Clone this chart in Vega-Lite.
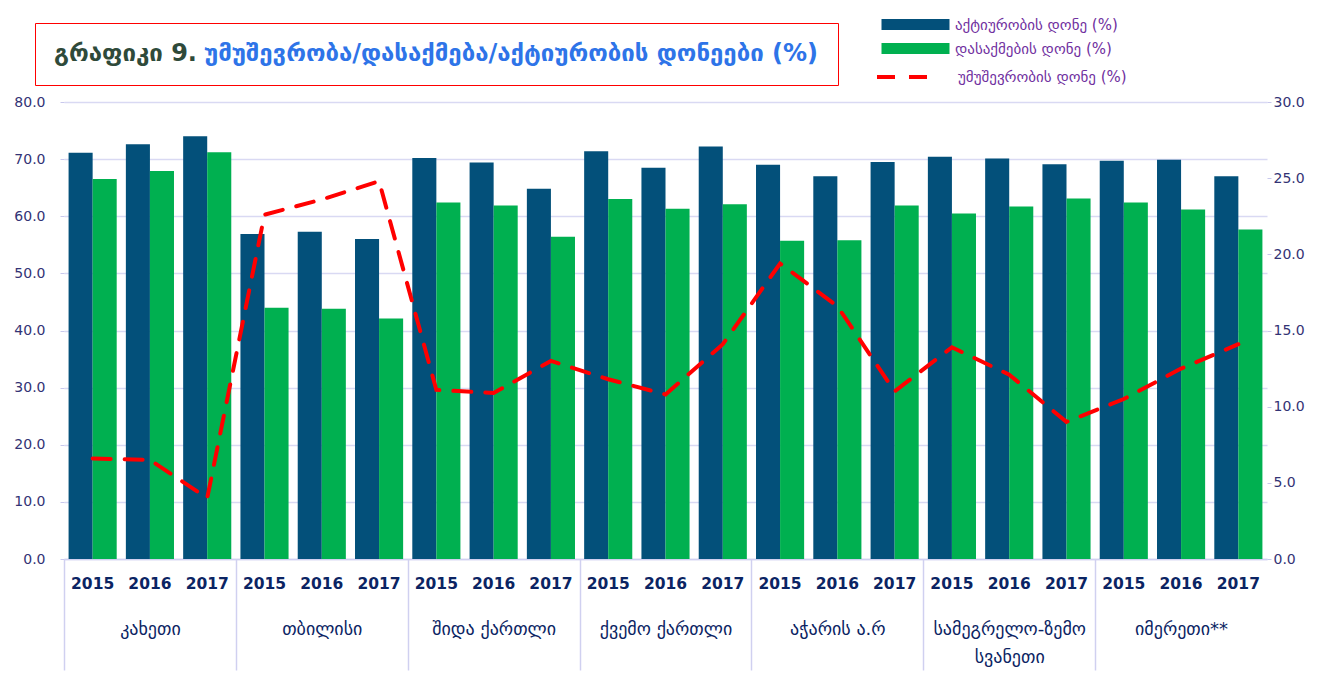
{
  "$schema": "https://vega.github.io/schema/vega-lite/v6.json",
  "padding": {"left": 13, "top": 17, "right": 10, "bottom": 5},
  "background": "#FFFFFF",
  "config": {"view": {"stroke": null}, "font": "DejaVu Sans"},
  "datasets": {
    "bars": [
      {"key": "კახეთი 2015", "series": "აქტიურობის დონე (%)", "value": 71.1},
      {"key": "კახეთი 2015", "series": "დასაქმების დონე (%)", "value": 66.5},
      {"key": "კახეთი 2016", "series": "აქტიურობის დონე (%)", "value": 72.6},
      {"key": "კახეთი 2016", "series": "დასაქმების დონე (%)", "value": 67.9},
      {"key": "კახეთი 2017", "series": "აქტიურობის დონე (%)", "value": 74.0},
      {"key": "კახეთი 2017", "series": "დასაქმების დონე (%)", "value": 71.2},
      {"key": "თბილისი 2015", "series": "აქტიურობის დონე (%)", "value": 56.9},
      {"key": "თბილისი 2015", "series": "დასაქმების დონე (%)", "value": 44.0},
      {"key": "თბილისი 2016", "series": "აქტიურობის დონე (%)", "value": 57.3},
      {"key": "თბილისი 2016", "series": "დასაქმების დონე (%)", "value": 43.8},
      {"key": "თბილისი 2017", "series": "აქტიურობის დონე (%)", "value": 56.0},
      {"key": "თბილისი 2017", "series": "დასაქმების დონე (%)", "value": 42.1},
      {"key": "შიდა ქართლი 2015", "series": "აქტიურობის დონე (%)", "value": 70.2},
      {"key": "შიდა ქართლი 2015", "series": "დასაქმების დონე (%)", "value": 62.4},
      {"key": "შიდა ქართლი 2016", "series": "აქტიურობის დონე (%)", "value": 69.4},
      {"key": "შიდა ქართლი 2016", "series": "დასაქმების დონე (%)", "value": 61.9},
      {"key": "შიდა ქართლი 2017", "series": "აქტიურობის დონე (%)", "value": 64.8},
      {"key": "შიდა ქართლი 2017", "series": "დასაქმების დონე (%)", "value": 56.4},
      {"key": "ქვემო ქართლი 2015", "series": "აქტიურობის დონე (%)", "value": 71.4},
      {"key": "ქვემო ქართლი 2015", "series": "დასაქმების დონე (%)", "value": 63.0},
      {"key": "ქვემო ქართლი 2016", "series": "აქტიურობის დონე (%)", "value": 68.5},
      {"key": "ქვემო ქართლი 2016", "series": "დასაქმების დონე (%)", "value": 61.3},
      {"key": "ქვემო ქართლი 2017", "series": "აქტიურობის დონე (%)", "value": 72.2},
      {"key": "ქვემო ქართლი 2017", "series": "დასაქმების დონე (%)", "value": 62.1},
      {"key": "აჭარის ა.რ 2015", "series": "აქტიურობის დონე (%)", "value": 69.0},
      {"key": "აჭარის ა.რ 2015", "series": "დასაქმების დონე (%)", "value": 55.7},
      {"key": "აჭარის ა.რ 2016", "series": "აქტიურობის დონე (%)", "value": 67.0},
      {"key": "აჭარის ა.რ 2016", "series": "დასაქმების დონე (%)", "value": 55.8},
      {"key": "აჭარის ა.რ 2017", "series": "აქტიურობის დონე (%)", "value": 69.5},
      {"key": "აჭარის ა.რ 2017", "series": "დასაქმების დონე (%)", "value": 61.9},
      {"key": "სამეგრელო-ზემო სვანეთი 2015", "series": "აქტიურობის დონე (%)", "value": 70.4},
      {"key": "სამეგრელო-ზემო სვანეთი 2015", "series": "დასაქმების დონე (%)", "value": 60.5},
      {"key": "სამეგრელო-ზემო სვანეთი 2016", "series": "აქტიურობის დონე (%)", "value": 70.1},
      {"key": "სამეგრელო-ზემო სვანეთი 2016", "series": "დასაქმების დონე (%)", "value": 61.7},
      {"key": "სამეგრელო-ზემო სვანეთი 2017", "series": "აქტიურობის დონე (%)", "value": 69.1},
      {"key": "სამეგრელო-ზემო სვანეთი 2017", "series": "დასაქმების დონე (%)", "value": 63.1},
      {"key": "იმერეთი** 2015", "series": "აქტიურობის დონე (%)", "value": 69.7},
      {"key": "იმერეთი** 2015", "series": "დასაქმების დონე (%)", "value": 62.4},
      {"key": "იმერეთი** 2016", "series": "აქტიურობის დონე (%)", "value": 69.9},
      {"key": "იმერეთი** 2016", "series": "დასაქმების დონე (%)", "value": 61.2},
      {"key": "იმერეთი** 2017", "series": "აქტიურობის დონე (%)", "value": 67.0},
      {"key": "იმერეთი** 2017", "series": "დასაქმების დონე (%)", "value": 57.7}
    ],
    "unemployment": [
      {"key": "კახეთი 2015", "value": 6.6},
      {"key": "კახეთი 2016", "value": 6.5},
      {"key": "კახეთი 2017", "value": 4.0},
      {"key": "თბილისი 2015", "value": 22.6},
      {"key": "თბილისი 2016", "value": 23.6},
      {"key": "თბილისი 2017", "value": 24.8},
      {"key": "შიდა ქართლი 2015", "value": 11.1},
      {"key": "შიდა ქართლი 2016", "value": 10.9},
      {"key": "შიდა ქართლი 2017", "value": 13.0},
      {"key": "ქვემო ქართლი 2015", "value": 11.8},
      {"key": "ქვემო ქართლი 2016", "value": 10.8},
      {"key": "ქვემო ქართლი 2017", "value": 14.1},
      {"key": "აჭარის ა.რ 2015", "value": 19.4},
      {"key": "აჭარის ა.რ 2016", "value": 16.6},
      {"key": "აჭარის ა.რ 2017", "value": 11.0},
      {"key": "სამეგრელო-ზემო სვანეთი 2015", "value": 13.9},
      {"key": "სამეგრელო-ზემო სვანეთი 2016", "value": 12.1},
      {"key": "სამეგრელო-ზემო სვანეთი 2017", "value": 9.0},
      {"key": "იმერეთი** 2015", "value": 10.5},
      {"key": "იმერეთი** 2016", "value": 12.5},
      {"key": "იმერეთი** 2017", "value": 14.1}
    ]
  },
  "width": 1203,
  "height": 457,
  "layer": [
    {
      "data": {"name": "bars"},
      "mark": {"type": "bar"},
      "encoding": {
        "x": {
          "field": "key", "type": "nominal", "sort": null,
          "scale": {"paddingInner": 0.16, "paddingOuter": 0.08},
          "axis": {"orient": "bottom", "labelExpr": "slice(datum.value, -4)", "labelAngle": 0, "title": null, "ticks": false, "tickSize": 0, "domain": true, "domainColor": "#D0D0F0", "domainWidth": 1.5, "labelFont": "DejaVu Sans", "labelFontSize": 15.5, "labelFontWeight": "bold", "labelColor": "#0B2463", "labelPadding": 17}
        },
        "xOffset": {"field": "series", "type": "nominal", "sort": null, "scale": {"paddingInner": 0, "paddingOuter": 0}},
        "y": {
          "field": "value", "type": "quantitative",
          "scale": {"domain": [0, 80]},
          "axis": {"orient": "left", "values": [0, 10, 20, 30, 40, 50, 60, 70, 80], "format": ".1f", "title": null, "domain": false, "ticks": true, "tickSize": 4, "tickColor": "#C8C8EC", "grid": true, "gridColor": "#D9D9F3", "gridWidth": 1.5, "labelFont": "DejaVu Sans", "labelFontSize": 14, "labelColor": "#333375", "labelPadding": 15}
        },
        "color": {
          "field": "series", "type": "nominal", "sort": null,
          "scale": {"domain": ["აქტიურობის დონე (%)", "დასაქმების დონე (%)"], "range": ["#03507A", "#00B050"]},
          "legend": {"orient": "none", "legendX": 844, "legendY": -85, "title": null, "symbolType": "M-4.857,-0.786H4.857V0.786H-4.857Z", "symbolSize": 196, "symbolStrokeWidth": 0, "labelFont": "DejaVu Sans", "labelFontSize": 15, "labelColor": "#7030A0", "labelOffset": 32, "labelLimit": 300, "rowPadding": 8}
        }
      }
    },
    {
      "data": {"name": "unemployment"},
      "mark": {"type": "line", "color": "#FF0000", "strokeWidth": 4, "strokeCap": "round"},
      "encoding": {
        "x": {
          "field": "key", "type": "nominal", "sort": null,
          "axis": {
            "orient": "bottom", "title": null, "domain": false,
            "values": ["კახეთი 2016", "თბილისი 2016", "შიდა ქართლი 2016", "ქვემო ქართლი 2016", "აჭარის ა.რ 2016", "სამეგრელო-ზემო სვანეთი 2016", "იმერეთი** 2016"],
            "ticks": true, "tickOffset": -85.93, "tickSize": 111, "tickColor": "#D0D0F0", "tickWidth": 1.5,
            "labelAngle": 0, "labelPadding": -50, "labelBaseline": "top", "labelOffset": 85.93,
            "labelFont": "DejaVu Sans", "labelFontSize": 18, "labelColor": "#0B2463", "labelLineHeight": 28, "labelLimit": 300,
            "labelExpr": "indexof(datum.value, '-') > 0 ? split(slice(datum.value, 0, -5), ' ') : slice(datum.value, 0, -5)"
          }
        },
        "y": {
          "field": "value", "type": "quantitative",
          "scale": {"domain": [0, 30]},
          "axis": {"orient": "right", "values": [0, 5, 10, 15, 20, 25, 30], "format": ".1f", "title": null, "domain": false, "ticks": true, "tickSize": 4, "tickColor": "#C8C8EC", "grid": false, "labelFont": "DejaVu Sans", "labelFontSize": 14, "labelColor": "#333375", "labelPadding": 2}
        },
        "strokeDash": {
          "datum": "უმუშევრობის დონე (%)",
          "scale": {"range": [[18, 14]]},
          "legend": {"orient": "none", "legendX": 830.5, "legendY": -34, "title": null, "symbolType": "M-3.786,0H3.786", "symbolSize": 196, "symbolStrokeColor": "#FF0000", "symbolStrokeWidth": 4, "labelFont": "DejaVu Sans", "labelFontSize": 15, "labelColor": "#7030A0", "labelOffset": 45.5, "labelLimit": 300}
        },
        "opacity": {
          "datum": "უმუშევრობა/დასაქმება/აქტიურობის დონეები (%)",
          "type": "nominal",
          "scale": {"range": [1]},
          "legend": {
            "orient": "none", "legendX": -29, "legendY": -79,
            "title": "გრაფიკი 9.", "titleOrient": "left", "titleFont": "DejaVu Sans", "titleFontSize": 24, "titleFontWeight": "bold", "titleColor": "#2F4A3A", "titlePadding": -17, "titleLimit": 400,
            "symbolSize": 0, "symbolOpacity": 0, "symbolStrokeWidth": 0,
            "labelFont": "DejaVu Sans", "labelFontSize": 24, "labelFontWeight": "bold", "labelColor": "#2E74E8", "labelLimit": 900, "labelOffset": 0,
            "strokeColor": "#FF0000", "padding": 19
          }
        }
      }
    }
  ],
  "resolve": {"scale": {"y": "independent"}, "axis": {"x": "independent"}}
}
